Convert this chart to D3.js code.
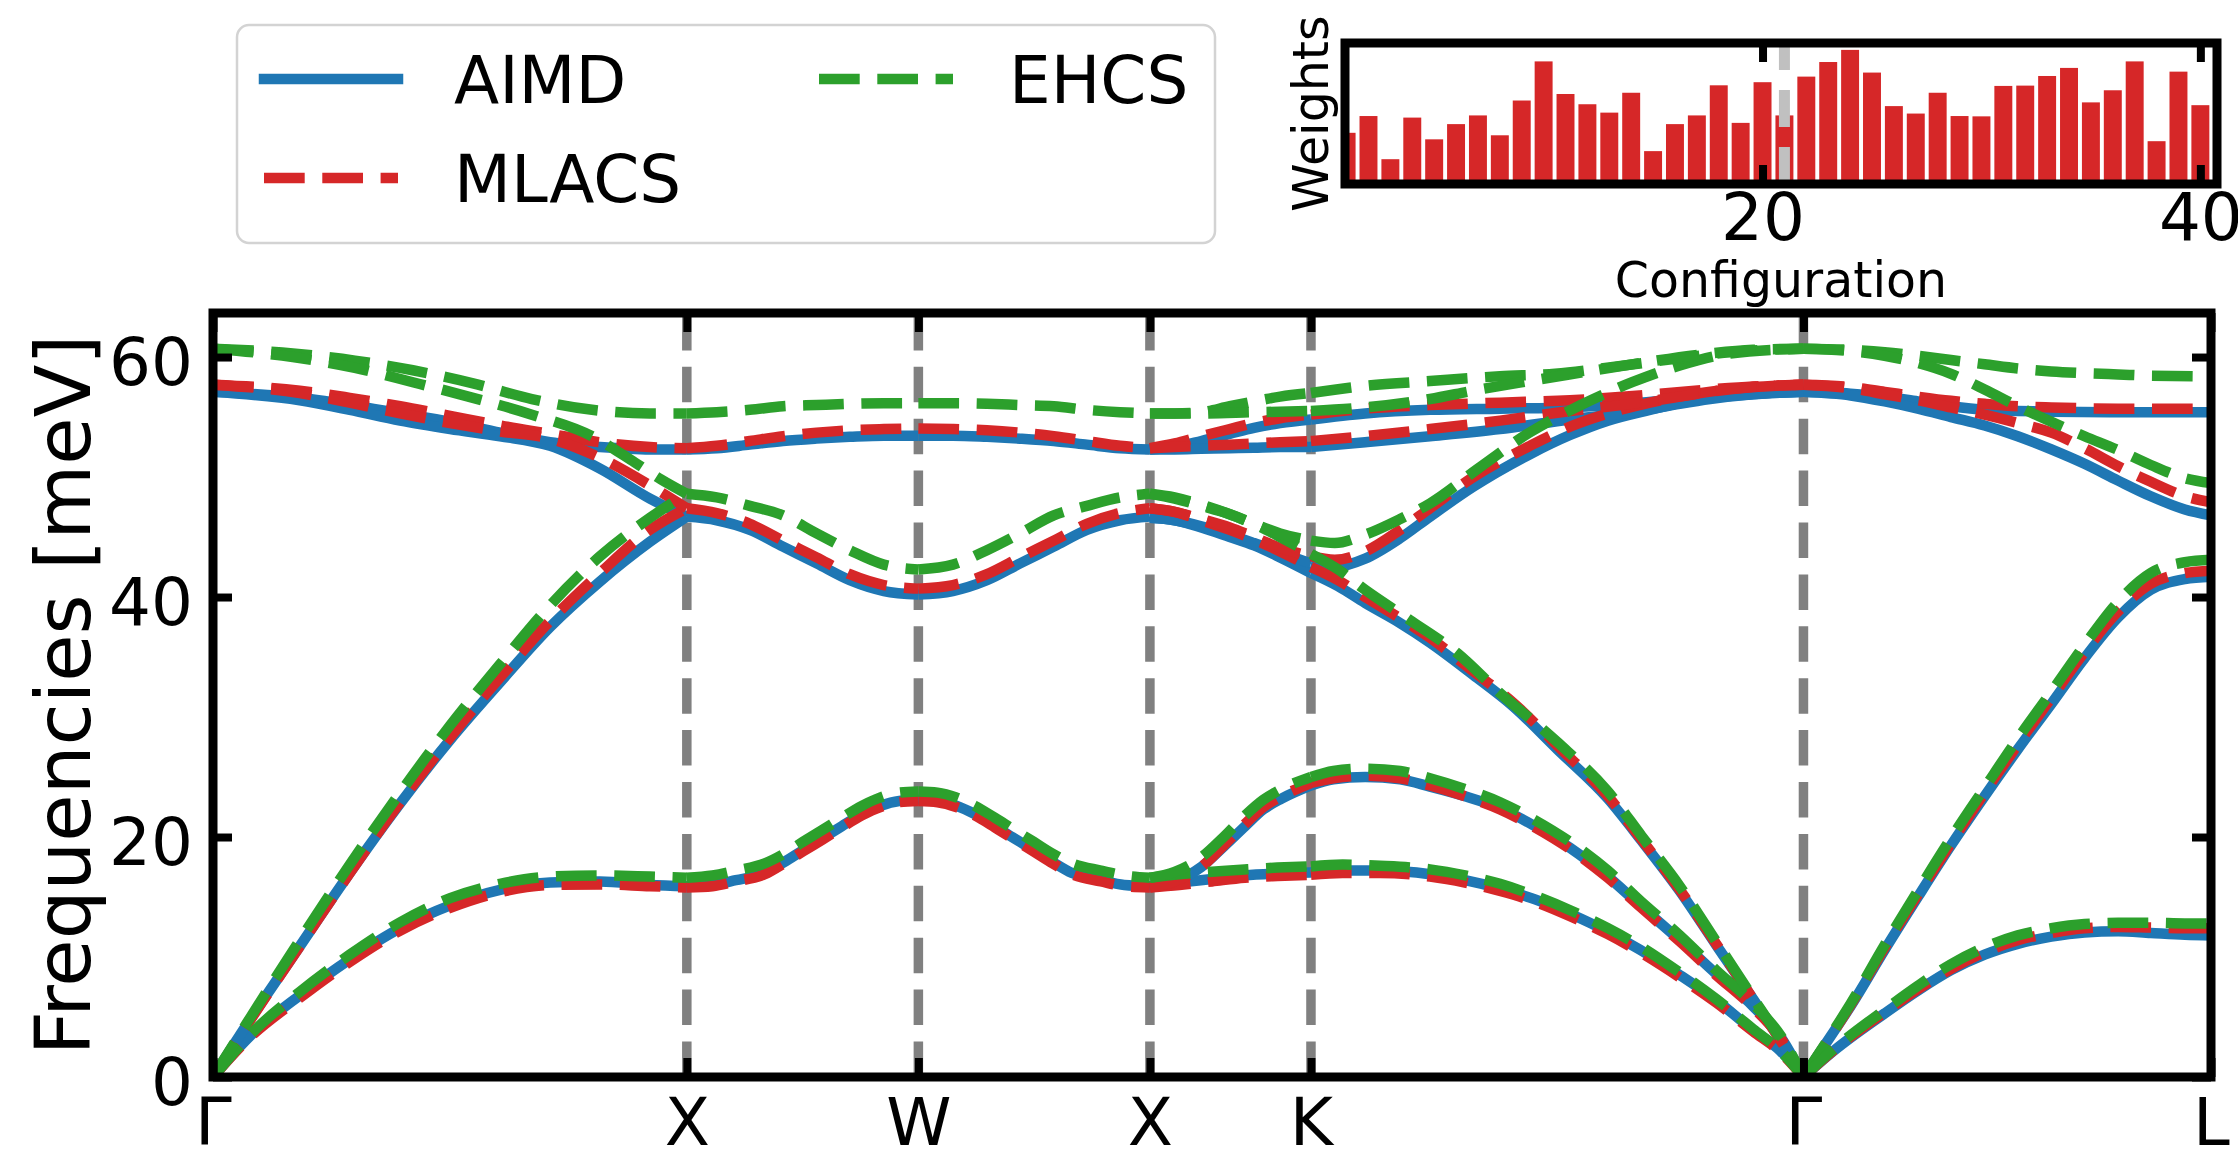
<!DOCTYPE html>
<html>
<head>
<meta charset="utf-8">
<script src="https://cdn.jsdelivr.net/npm/d3@7"></script>
<style>
  html, body { margin: 0; padding: 0; background: #fff; }
  svg { display: block; font-family: "DejaVu Sans", sans-serif; }
</style>
</head>
<body>
<svg id="chart"></svg>
<script>
// path through the Brillouin zone
const kLabels = ["Γ", "X", "W", "X", "K", "Γ", "L"];
const kPos = [0, 1.015, 1.511, 2.007, 2.352, 3.407, 4.280];
const yTicks = [0, 20, 40, 60];

// phonon branches, [q, meV] points, one path segment each
const aimd = [
  // Γ-X
  [[0,0],[0.079,3.4],[0.186,6.8],[0.293,9.8],[0.401,12.4],[0.508,14.3],[0.615,15.6],[0.722,16.2],[0.829,16.3],[0.936,16.0],[1.015,15.9]],
  [[0,0],[0.079,4.75],[0.186,10.9],[0.293,17.0],[0.401,22.8],[0.508,28.1],[0.615,32.9],[0.722,37.5],[0.829,41.3],[0.936,44.6],[1.015,46.7]],
  [[0,57.1],[0.186,56.6],[0.293,56.0],[0.401,55.3],[0.508,54.6],[0.615,53.7],[0.722,52.9],[0.829,52.5],[0.936,52.3],[1.015,52.3]],
  [[0,57.1],[0.186,56.4],[0.293,55.6],[0.401,54.7],[0.508,54.0],[0.615,53.4],[0.722,52.6],[0.829,50.7],[0.936,48.2],[1.015,46.7]],
  // X-W
  [[1.015,15.9],[1.07,16.0],[1.12,16.4],[1.182,17.0],[1.223,17.9],[1.264,18.9],[1.306,19.9],[1.347,20.9],[1.39,21.9],[1.43,22.6],[1.47,23.0],[1.511,23.1]],
  [[1.015,46.7],[1.079,46.4],[1.15,45.6],[1.221,44.2],[1.293,42.8],[1.364,41.4],[1.437,40.5],[1.511,40.2]],
  [[1.015,52.3],[1.079,52.4],[1.15,52.7],[1.221,53.0],[1.293,53.2],[1.364,53.35],[1.437,53.45],[1.511,53.45]],
  // W-X
  [[1.511,23.1],[1.552,23.0],[1.592,22.6],[1.632,21.9],[1.675,20.9],[1.716,19.9],[1.758,18.9],[1.799,17.9],[1.840,17.0],[1.902,16.4],[1.952,16.0],[2.007,15.9]],
  [[1.511,40.2],[1.585,40.5],[1.658,41.4],[1.729,42.8],[1.801,44.2],[1.872,45.6],[1.943,46.4],[2.007,46.7]],
  [[1.511,53.45],[1.585,53.45],[1.658,53.35],[1.729,53.2],[1.801,53.0],[1.872,52.7],[1.943,52.4],[2.007,52.3]],
  // X-K
  [[2.007,15.9],[2.07,16.2],[2.14,16.5],[2.21,16.8],[2.28,16.95],[2.352,17.05]],
  [[2.007,15.9],[2.06,16.3],[2.117,17.5],[2.165,19.2],[2.211,20.9],[2.25,22.3],[2.289,23.2],[2.352,24.3]],
  [[2.007,46.6],[2.06,46.4],[2.117,45.8],[2.178,45.0],[2.23,44.3],[2.286,43.3],[2.352,42.0]],
  [[2.007,46.6],[2.06,46.4],[2.117,45.9],[2.178,45.2],[2.23,44.5],[2.286,43.7],[2.352,42.8]],
  [[2.007,52.3],[2.06,52.5],[2.117,53.0],[2.178,53.6],[2.23,54.1],[2.286,54.5],[2.352,54.8]],
  [[2.007,52.3],[2.06,52.3],[2.117,52.35],[2.178,52.4],[2.23,52.45],[2.286,52.5],[2.352,52.5]],
  // K-Γ
  [[2.352,17.05],[2.42,17.2],[2.50,17.2],[2.607,16.9],[2.682,16.4],[2.757,15.7],[2.832,14.8],[2.907,13.6],[2.988,12.1],[3.057,10.6],[3.142,8.5],[3.22,6.4],[3.299,3.9],[3.357,2.2],[3.407,0]],
  [[2.352,24.3],[2.40,24.8],[2.468,25.0],[2.543,24.8],[2.607,24.2],[2.682,23.4],[2.757,22.4],[2.832,20.9],[2.907,19.1],[2.988,16.7],[3.057,14.3],[3.142,11.4],[3.22,8.6],[3.299,5.9],[3.357,3.4],[3.407,0]],
  [[2.352,42.0],[2.41,40.9],[2.468,39.5],[2.54,37.9],[2.607,36.2],[2.70,33.5],[2.785,30.9],[2.88,27.3],[2.988,23.2],[3.06,19.7],[3.142,15.5],[3.22,11.0],[3.299,6.5],[3.357,3.1],[3.407,0]],
  [[2.352,42.8],[2.403,42.5],[2.468,43.2],[2.543,44.9],[2.607,46.7],[2.70,49.2],[2.821,51.9],[2.907,53.5],[2.988,54.7],[3.078,55.6],[3.17,56.4],[3.299,56.9],[3.407,57.1]],
  [[2.352,54.8],[2.468,55.3],[2.607,55.6],[2.757,55.7],[2.907,55.8],[3.057,56.2],[3.207,56.7],[3.299,56.95],[3.407,57.1]],
  [[2.352,52.5],[2.468,52.9],[2.607,53.4],[2.757,54.0],[2.907,54.8],[3.057,55.5],[3.142,56.1],[3.207,56.5],[3.299,56.9],[3.407,57.1]],
  // Γ-L
  [[3.407,0],[3.474,3.9],[3.508,5.9],[3.581,10.6],[3.652,15.0],[3.723,19.3],[3.795,23.4],[3.866,27.3],[3.938,31.1],[4.009,34.9],[4.081,38.3],[4.151,40.6],[4.224,41.5],[4.280,41.7]],
  [[3.407,0],[3.474,2.25],[3.581,5.3],[3.652,7.2],[3.723,8.9],[3.795,10.2],[3.866,11.1],[3.938,11.7],[4.009,12.05],[4.081,12.15],[4.151,12.0],[4.224,11.85],[4.280,11.8]],
  [[3.407,57.1],[3.508,56.95],[3.581,56.7],[3.652,56.3],[3.723,55.9],[3.795,55.6],[3.866,55.5],[3.938,55.45],[4.081,55.4],[4.280,55.4]],
  [[3.407,57.1],[3.508,56.8],[3.581,56.3],[3.652,55.7],[3.723,55.0],[3.795,54.3],[3.866,53.4],[3.938,52.3],[4.009,51.1],[4.081,49.7],[4.151,48.4],[4.224,47.3],[4.280,46.8]]
];

const mlacs = [
  // Γ-X
  [[0,0],[0.079,3.3],[0.186,6.6],[0.293,9.6],[0.401,12.2],[0.508,14.1],[0.615,15.4],[0.722,16.0],[0.829,16.05],[0.936,15.9],[1.015,15.8]],
  [[0,0],[0.079,4.7],[0.186,10.9],[0.293,17.0],[0.401,22.9],[0.508,28.3],[0.615,33.3],[0.722,38.0],[0.829,42.0],[0.936,45.6],[1.015,47.4]],
  [[0,57.7],[0.186,57.2],[0.293,56.6],[0.401,55.9],[0.508,55.1],[0.615,54.3],[0.722,53.6],[0.829,52.9],[0.936,52.5],[1.015,52.4]],
  [[0,57.7],[0.186,57.0],[0.293,56.2],[0.401,55.3],[0.508,54.5],[0.615,53.8],[0.722,53.2],[0.829,51.6],[0.936,49.3],[1.015,47.4]],
  // X-W
  [[1.015,15.8],[1.07,15.9],[1.12,16.3],[1.182,16.9],[1.223,17.8],[1.264,18.8],[1.306,19.8],[1.347,20.8],[1.39,21.8],[1.43,22.5],[1.47,22.9],[1.511,23.0]],
  [[1.015,47.4],[1.079,47.0],[1.15,46.1],[1.221,44.7],[1.293,43.3],[1.364,41.9],[1.437,41.0],[1.511,40.7]],
  [[1.015,52.4],[1.079,52.6],[1.15,53.0],[1.221,53.4],[1.293,53.7],[1.364,53.9],[1.437,54.0],[1.511,54.05]],
  // W-X
  [[1.511,23.0],[1.552,22.9],[1.592,22.5],[1.632,21.8],[1.675,20.8],[1.716,19.8],[1.758,18.8],[1.799,17.8],[1.840,16.9],[1.902,16.3],[1.952,15.9],[2.007,15.8]],
  [[1.511,40.7],[1.585,41.0],[1.658,41.9],[1.729,43.3],[1.801,44.7],[1.872,46.1],[1.943,47.0],[2.007,47.4]],
  [[1.511,54.05],[1.585,54.0],[1.658,53.9],[1.729,53.7],[1.801,53.4],[1.872,53.0],[1.943,52.6],[2.007,52.4]],
  // X-K
  [[2.007,15.8],[2.07,16.0],[2.14,16.3],[2.21,16.6],[2.28,16.75],[2.352,16.85]],
  [[2.007,15.8],[2.06,16.3],[2.117,17.5],[2.165,19.3],[2.211,21.1],[2.25,22.5],[2.289,23.4],[2.352,24.5]],
  [[2.007,47.4],[2.06,47.1],[2.117,46.4],[2.178,45.6],[2.23,44.8],[2.286,43.8],[2.352,42.5]],
  [[2.007,47.4],[2.06,47.1],[2.117,46.5],[2.178,45.8],[2.23,45.0],[2.286,44.1],[2.352,43.4]],
  [[2.007,52.4],[2.06,52.8],[2.117,53.4],[2.178,54.0],[2.23,54.5],[2.286,54.9],[2.352,55.2]],
  [[2.007,52.4],[2.06,52.5],[2.117,52.6],[2.178,52.7],[2.23,52.8],[2.286,52.9],[2.352,53.0]],
  // K-Γ
  [[2.352,16.85],[2.42,17.0],[2.50,17.0],[2.607,16.7],[2.682,16.2],[2.757,15.5],[2.832,14.6],[2.907,13.4],[2.988,11.9],[3.057,10.4],[3.142,8.3],[3.22,6.2],[3.299,3.8],[3.357,2.1],[3.407,0]],
  [[2.352,24.5],[2.40,24.9],[2.468,25.1],[2.543,24.9],[2.607,24.3],[2.682,23.4],[2.757,22.3],[2.832,20.8],[2.907,19.0],[2.988,16.6],[3.057,14.2],[3.142,11.3],[3.22,8.5],[3.299,5.8],[3.357,3.3],[3.407,0]],
  [[2.352,42.5],[2.41,41.4],[2.468,40.0],[2.54,38.3],[2.607,36.6],[2.70,33.8],[2.785,31.2],[2.88,27.6],[2.988,23.4],[3.06,19.8],[3.142,15.6],[3.22,11.1],[3.299,6.5],[3.357,3.1],[3.407,0]],
  [[2.352,43.4],[2.403,43.1],[2.468,43.8],[2.543,45.6],[2.607,47.4],[2.70,50.0],[2.821,52.6],[2.907,54.2],[2.988,55.3],[3.078,56.2],[3.17,56.9],[3.299,57.5],[3.407,57.7]],
  [[2.352,55.2],[2.468,55.7],[2.607,56.0],[2.757,56.2],[2.907,56.4],[3.057,56.8],[3.207,57.3],[3.299,57.55],[3.407,57.7]],
  [[2.352,53.0],[2.468,53.4],[2.607,54.0],[2.757,54.7],[2.907,55.5],[3.057,56.2],[3.142,56.7],[3.207,57.1],[3.299,57.5],[3.407,57.7]],
  // Γ-L
  [[3.407,0],[3.474,3.9],[3.508,6.0],[3.581,10.8],[3.652,15.2],[3.723,19.5],[3.795,23.7],[3.866,27.7],[3.938,31.6],[4.009,35.4],[4.081,38.8],[4.151,41.1],[4.224,42.0],[4.280,42.2]],
  [[3.407,0],[3.474,2.3],[3.581,5.4],[3.652,7.3],[3.723,9.0],[3.795,10.4],[3.866,11.4],[3.938,12.0],[4.009,12.4],[4.081,12.5],[4.151,12.45],[4.224,12.4],[4.280,12.4]],
  [[3.407,57.7],[3.508,57.5],[3.581,57.1],[3.652,56.7],[3.723,56.35],[3.795,56.1],[3.866,55.9],[3.938,55.8],[4.081,55.7],[4.280,55.7]],
  [[3.407,57.7],[3.508,57.4],[3.581,56.9],[3.652,56.4],[3.723,55.8],[3.795,55.2],[3.866,54.5],[3.938,53.7],[4.009,52.4],[4.081,50.9],[4.151,49.6],[4.224,48.4],[4.280,47.9]]
];

const ehcs = [
  // Γ-X
  [[0,0],[0.079,3.5],[0.186,7.1],[0.293,10.2],[0.401,12.9],[0.508,14.9],[0.615,16.1],[0.722,16.7],[0.829,16.8],[0.936,16.7],[1.015,16.6]],
  [[0,0],[0.079,4.9],[0.186,11.4],[0.293,17.7],[0.401,23.7],[0.508,29.3],[0.615,34.4],[0.722,39.3],[0.829,43.4],[0.936,46.6],[1.015,48.6]],
  [[0,60.7],[0.171,60.3],[0.304,59.7],[0.428,58.9],[0.557,57.8],[0.683,56.5],[0.812,55.6],[0.936,55.3],[1.015,55.3]],
  [[0,60.7],[0.171,60.0],[0.304,59.1],[0.428,57.9],[0.557,56.6],[0.683,55.2],[0.812,53.4],[0.904,51.2],[0.96,49.8],[1.015,48.6]],
  // X-W
  [[1.015,16.6],[1.07,16.8],[1.12,17.2],[1.182,17.8],[1.223,18.6],[1.264,19.6],[1.306,20.6],[1.347,21.6],[1.39,22.6],[1.43,23.3],[1.47,23.7],[1.511,23.8]],
  [[1.015,48.6],[1.079,48.3],[1.15,47.6],[1.221,46.8],[1.293,45.3],[1.364,43.9],[1.437,42.7],[1.511,42.3]],
  [[1.015,55.3],[1.079,55.4],[1.15,55.6],[1.221,55.9],[1.293,56.0],[1.364,56.1],[1.437,56.15],[1.511,56.15]],
  // W-X
  [[1.511,23.8],[1.552,23.7],[1.592,23.3],[1.632,22.6],[1.675,21.6],[1.716,20.6],[1.758,19.6],[1.799,18.6],[1.840,17.8],[1.902,17.2],[1.952,16.8],[2.007,16.6]],
  [[1.511,42.3],[1.585,42.7],[1.658,43.9],[1.729,45.3],[1.801,46.8],[1.872,47.6],[1.943,48.3],[2.007,48.6]],
  [[1.511,56.15],[1.585,56.15],[1.658,56.1],[1.729,56.0],[1.801,55.9],[1.872,55.6],[1.943,55.4],[2.007,55.3]],
  // X-K
  [[2.007,16.6],[2.07,16.9],[2.14,17.1],[2.21,17.3],[2.28,17.45],[2.352,17.55]],
  [[2.007,16.6],[2.06,17.1],[2.117,18.3],[2.165,20.0],[2.211,21.8],[2.25,23.1],[2.289,24.0],[2.352,25.0]],
  [[2.007,48.6],[2.06,48.2],[2.117,47.6],[2.178,46.9],[2.23,46.1],[2.286,45.0],[2.352,43.6]],
  [[2.007,48.6],[2.06,48.3],[2.117,47.7],[2.178,46.9],[2.23,46.1],[2.286,45.3],[2.352,44.7]],
  [[2.007,55.3],[2.06,55.3],[2.117,55.4],[2.178,55.9],[2.23,56.3],[2.286,56.7],[2.352,57.0]],
  [[2.007,55.3],[2.117,55.3],[2.23,55.4],[2.352,55.5]],
  // K-Γ
  [[2.352,17.55],[2.42,17.7],[2.50,17.6],[2.607,17.3],[2.682,16.8],[2.757,16.1],[2.832,15.1],[2.907,13.9],[2.988,12.4],[3.057,10.9],[3.142,8.7],[3.22,6.5],[3.299,4.0],[3.357,2.2],[3.407,0]],
  [[2.352,25.0],[2.40,25.5],[2.468,25.7],[2.543,25.5],[2.607,24.9],[2.682,24.0],[2.757,22.9],[2.832,21.4],[2.907,19.6],[2.988,17.2],[3.057,14.7],[3.142,11.8],[3.22,8.9],[3.299,6.1],[3.357,3.5],[3.407,0]],
  [[2.352,43.6],[2.41,42.3],[2.468,40.6],[2.563,38.1],[2.666,35.3],[2.757,32.0],[2.88,27.9],[2.988,23.8],[3.06,20.1],[3.142,15.9],[3.22,11.3],[3.299,6.6],[3.357,3.2],[3.407,0]],
  [[2.352,44.7],[2.403,44.5],[2.468,45.2],[2.543,46.5],[2.607,47.8],[2.71,50.7],[2.82,53.7],[2.93,56.0],[3.04,57.9],[3.142,59.3],[3.25,60.3],[3.407,60.7]],
  [[2.352,57.0],[2.468,57.6],[2.607,58.0],[2.757,58.4],[2.875,58.6],[3.003,59.2],[3.142,59.9],[3.25,60.4],[3.407,60.7]],
  [[2.352,55.5],[2.468,55.8],[2.607,56.5],[2.70,57.2],[2.82,58.0],[2.93,58.7],[3.057,59.5],[3.207,60.3],[3.299,60.6],[3.407,60.7]],
  // Γ-L
  [[3.407,0],[3.474,4.0],[3.508,6.1],[3.581,11.0],[3.652,15.5],[3.723,19.9],[3.795,24.1],[3.866,28.2],[3.938,32.1],[4.009,36.0],[4.081,39.6],[4.151,42.0],[4.224,42.9],[4.280,43.1]],
  [[3.407,0],[3.474,2.4],[3.581,5.6],[3.652,7.6],[3.723,9.4],[3.795,10.8],[3.866,11.8],[3.938,12.4],[4.009,12.75],[4.081,12.85],[4.151,12.85],[4.224,12.8],[4.280,12.8]],
  [[3.407,60.7],[3.508,60.6],[3.581,60.4],[3.652,60.1],[3.723,59.75],[3.795,59.4],[3.866,59.05],[3.938,58.8],[4.009,58.65],[4.081,58.55],[4.151,58.45],[4.280,58.4]],
  [[3.407,60.7],[3.508,60.5],[3.581,60.1],[3.652,59.5],[3.723,58.6],[3.795,57.3],[3.866,55.9],[3.938,54.6],[4.009,53.4],[4.081,52.25],[4.151,51.0],[4.224,49.9],[4.280,49.5]]
];

// inset: weight of each training configuration
const weights = [0.0152,0.0206,0.0067,0.0201,0.0131,0.0180,0.0208,0.0144,0.0256,0.0382,
                 0.0277,0.0244,0.0217,0.0281,0.0093,0.0180,0.0208,0.0305,0.0184,0.0315,
                 0.0208,0.0333,0.0380,0.0419,0.0346,0.0238,0.0214,0.0281,0.0206,0.0205,
                 0.0303,0.0304,0.0335,0.0361,0.0250,0.0289,0.0382,0.0125,0.0349,0.0241];
const configTicks = [20, 40];
const markedConfig = 21;

const seriesNames = ["AIMD", "MLACS", "EHCS"];

// ---- layout ----
const W = 2238, H = 1149;
const svg = d3.select("#chart").attr("width", W).attr("height", H);

const plot = { left: 213, right: 2211, top: 313, bottom: 1077 };
const x = d3.scaleLinear().domain([0, 4.28]).range([plot.left, plot.right]);
const y = d3.scaleLinear().domain([0, 63.67]).range([plot.bottom, plot.top]);

svg.append("defs").append("clipPath").attr("id", "clip")
  .append("rect")
  .attr("x", plot.left).attr("y", plot.top)
  .attr("width", plot.right - plot.left).attr("height", plot.bottom - plot.top);

// grey dashed verticals at interior high-symmetry points
svg.append("g").selectAll("line")
  .data(kPos.slice(1, -1))
  .join("line")
  .attr("x1", d => x(d)).attr("x2", d => x(d))
  .attr("y1", y(0)).attr("y2", y(63.67))
  .attr("stroke", "#808080")
  .attr("stroke-width", 9.5)
  .attr("stroke-dasharray", "35.5,16.4");

const line = d3.line()
  .x(d => x(d[0]))
  .y(d => y(d[1]))
  .curve(d3.curveMonotoneX);

const styles = [
  { data: aimd,  color: "#1f77b4", dash: null },
  { data: mlacs, color: "#d62728", dash: "40.7,17.6" },
  { data: ehcs,  color: "#2ca02c", dash: "40.7,17.6" }
];

const curves = svg.append("g").attr("clip-path", "url(#clip)");
styles.forEach(s => {
  curves.append("g").selectAll("path")
    .data(s.data)
    .join("path")
    .attr("d", line)
    .attr("fill", "none")
    .attr("stroke", s.color)
    .attr("stroke-width", 10.5)
    .attr("stroke-linejoin", "round")
    .attr("stroke-dasharray", s.dash);
});

// axes, ticks pointing inward
const tickLen = 19;
function styleAxis(g) {
  g.select(".domain").remove();
  g.selectAll(".tick line").attr("stroke", "#000").attr("stroke-width", 8);
  g.selectAll(".tick text").attr("fill", "#000").attr("font-size", 66)
    .attr("font-family", "DejaVu Sans");
}

svg.append("g")
  .attr("transform", `translate(0,${plot.bottom})`)
  .call(d3.axisBottom(x).tickValues(kPos).tickFormat((d, i) => kLabels[i])
    .tickSize(-tickLen).tickPadding(21))
  .call(styleAxis);

svg.append("g")
  .attr("transform", `translate(0,${plot.top})`)
  .call(d3.axisTop(x).tickValues(kPos).tickFormat("").tickSize(-tickLen))
  .call(styleAxis);

svg.append("g")
  .attr("transform", `translate(${plot.left},0)`)
  .call(d3.axisLeft(y).tickValues(yTicks).tickSize(-tickLen).tickPadding(20))
  .call(styleAxis)
  .call(g => g.selectAll(".tick text").attr("dy", "0.41em"));

svg.append("g")
  .attr("transform", `translate(${plot.right},0)`)
  .call(d3.axisRight(y).tickValues(yTicks).tickFormat("").tickSize(-tickLen))
  .call(styleAxis);

svg.append("rect")
  .attr("x", plot.left).attr("y", plot.top)
  .attr("width", plot.right - plot.left).attr("height", plot.bottom - plot.top)
  .attr("fill", "none").attr("stroke", "#000").attr("stroke-width", 9);

svg.append("text")
  .attr("transform", `translate(90,${(plot.top + plot.bottom) / 2}) rotate(-90)`)
  .attr("text-anchor", "middle")
  .attr("font-size", 77)
  .text("Frequencies [meV]");

// ---- legend ----
const legend = svg.append("g");
legend.append("rect")
  .attr("x", 237).attr("y", 25).attr("width", 978).attr("height", 218)
  .attr("rx", 12).attr("fill", "#fff")
  .attr("stroke", "#d3d3d3").attr("stroke-width", 2.5);

const legendPos = [[264, 79], [264, 178], [819, 79]];
styles.forEach((s, i) => {
  const [lx, ly] = legendPos[i];
  legend.append("line")
    .attr("x1", lx).attr("x2", lx + 134).attr("y1", ly).attr("y2", ly)
    .attr("stroke", s.color).attr("stroke-width", 10.5)
    .attr("stroke-linecap", s.dash ? "butt" : "square")
    .attr("stroke-dasharray", s.dash);
  legend.append("text")
    .attr("x", lx + 190).attr("y", ly + 24)
    .attr("font-size", 66)
    .text(seriesNames[i]);
});

// ---- inset ----
const inset = { left: 1345, right: 2217, top: 43, bottom: 184 };
const xi = d3.scaleLinear().domain([0.927, 40.76]).range([inset.left, inset.right]);
const yi = d3.scaleLinear().domain([0, 0.04274]).range([180, 47.3]);

svg.select("defs").append("clipPath").attr("id", "clipInset")
  .append("rect")
  .attr("x", inset.left).attr("y", inset.top)
  .attr("width", inset.right - inset.left).attr("height", inset.bottom - inset.top);

const ig = svg.append("g").attr("clip-path", "url(#clipInset)");
const bw = xi(0.82) - xi(0);
ig.selectAll("rect")
  .data(weights)
  .join("rect")
  .attr("x", (d, i) => xi(i + 1) - bw / 2)
  .attr("width", bw)
  .attr("y", d => yi(d))
  .attr("height", d => yi(0) - yi(d) + 6)
  .attr("fill", "#d62728");

ig.append("line")
  .attr("x1", xi(markedConfig)).attr("x2", xi(markedConfig))
  .attr("y1", inset.bottom).attr("y2", inset.top)
  .attr("stroke", "#c0c0c0").attr("stroke-width", 11)
  .attr("stroke-dasharray", "37,20");

svg.append("g")
  .attr("transform", `translate(0,${inset.bottom})`)
  .call(d3.axisBottom(xi).tickValues(configTicks).tickSize(-tickLen).tickPadding(9))
  .call(styleAxis);

svg.append("g")
  .attr("transform", `translate(0,${inset.top})`)
  .call(d3.axisTop(xi).tickValues(configTicks).tickFormat("").tickSize(-tickLen))
  .call(styleAxis);

svg.append("rect")
  .attr("x", inset.left).attr("y", inset.top)
  .attr("width", inset.right - inset.left).attr("height", inset.bottom - inset.top)
  .attr("fill", "none").attr("stroke", "#000").attr("stroke-width", 9);

svg.append("text")
  .attr("x", (inset.left + inset.right) / 2).attr("y", 297)
  .attr("text-anchor", "middle").attr("font-size", 49)
  .text("Configuration");

svg.append("text")
  .attr("transform", `translate(1328,${(inset.top + inset.bottom) / 2}) rotate(-90)`)
  .attr("text-anchor", "middle").attr("font-size", 49)
  .text("Weights");
</script>
</body>
</html>
